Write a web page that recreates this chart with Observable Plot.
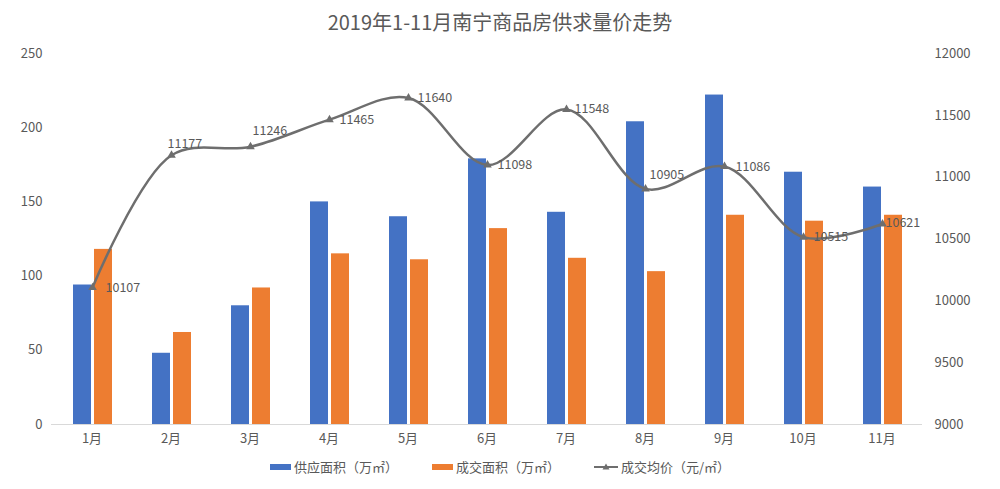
<!DOCTYPE html>
<html><head><meta charset="utf-8">
<script src="https://cdn.jsdelivr.net/npm/d3@7"></script>
<script src="https://cdn.jsdelivr.net/npm/@observablehq/plot@0.6"></script>
<style>
body{margin:0;background:#fff;font-family:"Noto Sans CJK SC","Noto Sans",sans-serif;}
#wrap{position:relative;width:1000px;height:489px;overflow:hidden;}
#title{position:absolute;top:7px;left:0;width:1000px;text-align:center;font-size:20px;color:#595959;}
.layer{position:absolute;left:0;top:40px;}
#legend{position:absolute;top:457px;left:0;width:1000px;display:flex;justify-content:center;gap:34px;font-size:13px;color:#595959;}
.item{display:flex;align-items:center;gap:3px;}
.sw{display:inline-block;width:21px;height:6px;}
</style></head>
<body>
<div id="wrap">
  <div id="title">2019年1-11月南宁商品房供求量价走势</div>
  <div id="bars" class="layer"></div>
  <div id="line" class="layer"></div>
  <div id="legend">
    <div class="item"><span class="sw" style="background:#4472C4"></span>供应面积（万㎡）</div>
    <div class="item"><span class="sw" style="background:#ED7D31"></span>成交面积（万㎡）</div>
    <div class="item"><svg width="24" height="10"><line x1="0" y1="5" x2="24" y2="5" stroke="#6e6e6e" stroke-width="2"/><path d="M12,1.5 L15.5,7.5 L8.5,7.5 Z" fill="#6e6e6e"/></svg>成交均价（元/㎡）</div>
  </div>
</div>
<script>
const months = ["1月","2月","3月","4月","5月","6月","7月","8月","9月","10月","11月"];
const supply = [94, 48, 80, 150, 140, 179, 143, 204, 222, 170, 160];
const deal = [118, 62, 92, 115, 111, 132, 112, 103, 141, 137, 141];
const price = [10107, 11177, 11246, 11465, 11640, 11098, 11548, 10905, 11086, 10515, 10621];
const leftTicks = [0, 50, 100, 150, 200, 250];
const rightTicks = [9000, 9500, 10000, 10500, 11000, 11500, 12000];

const W = 1000, H = 415;
const margins = {marginLeft: 51, marginRight: 78, marginTop: 13, marginBottom: 31};
const font = {fontFamily: '"Noto Sans CJK SC","Noto Sans",sans-serif', fontSize: "13px", color: "#595959"};

const rows = months.map((m, i) => ({m, s: supply[i], d: deal[i], p: price[i]}));

const bars = Plot.plot({
  width: W, height: H, ...margins,
  style: font,
  x: {domain: months, padding: 0, axis: null, label: null},
  y: {domain: [0, 250], axis: null, label: null},
  marks: [
    Plot.axisX({tickSize: 0, tickPadding: 9, fill: "#595959", label: null}),
    Plot.axisY({ticks: leftTicks, tickSize: 0, tickPadding: 9, fill: "#595959", label: null}),
    Plot.ruleY([0], {stroke: "#d9d9d9"}),
    Plot.barY(rows, {x: "m", y: "s", fill: "#4472C4", insetLeft: 21, insetRight: 40}),
    Plot.barY(rows, {x: "m", y: "d", fill: "#ED7D31", insetLeft: 42, insetRight: 19})
  ]
});
document.getElementById("bars").append(bars);

// label offsets (layout only)
const ldx = [13, -4, 2, 10, 9, 10, 8, 4, 11, 10, 3];
const ldy = [0, -11, -16, 0, 0, 0, 0, -14, 0, 0, -1];

const line = Plot.plot({
  width: W, height: H, ...margins,
  style: {...font, background: "transparent"},
  x: {type: "point", domain: months, padding: 0.5, axis: null, label: null},
  y: {domain: [9000, 12000], axis: null, label: null},
  marks: [
    Plot.axisY({anchor: "right", ticks: rightTicks, tickSize: 0, tickPadding: 12, fill: "#595959", label: null, tickFormat: d => String(d)}),
    Plot.line(rows, {x: "m", y: "p", stroke: "#6e6e6e", strokeWidth: 2.5, curve: "catmull-rom"}),
    Plot.dot(rows, {x: "m", y: "p", symbol: "triangle", r: 3.2, fill: "#6e6e6e"}),
    ...rows.map((r, i) => Plot.text([r], {x: "m", y: "p", text: d => String(d.p), textAnchor: "start", dx: ldx[i], dy: ldy[i], fill: "#595959", fontSize: 12.5}))
  ]
});
document.getElementById("line").append(line);
</script>
</body></html>
